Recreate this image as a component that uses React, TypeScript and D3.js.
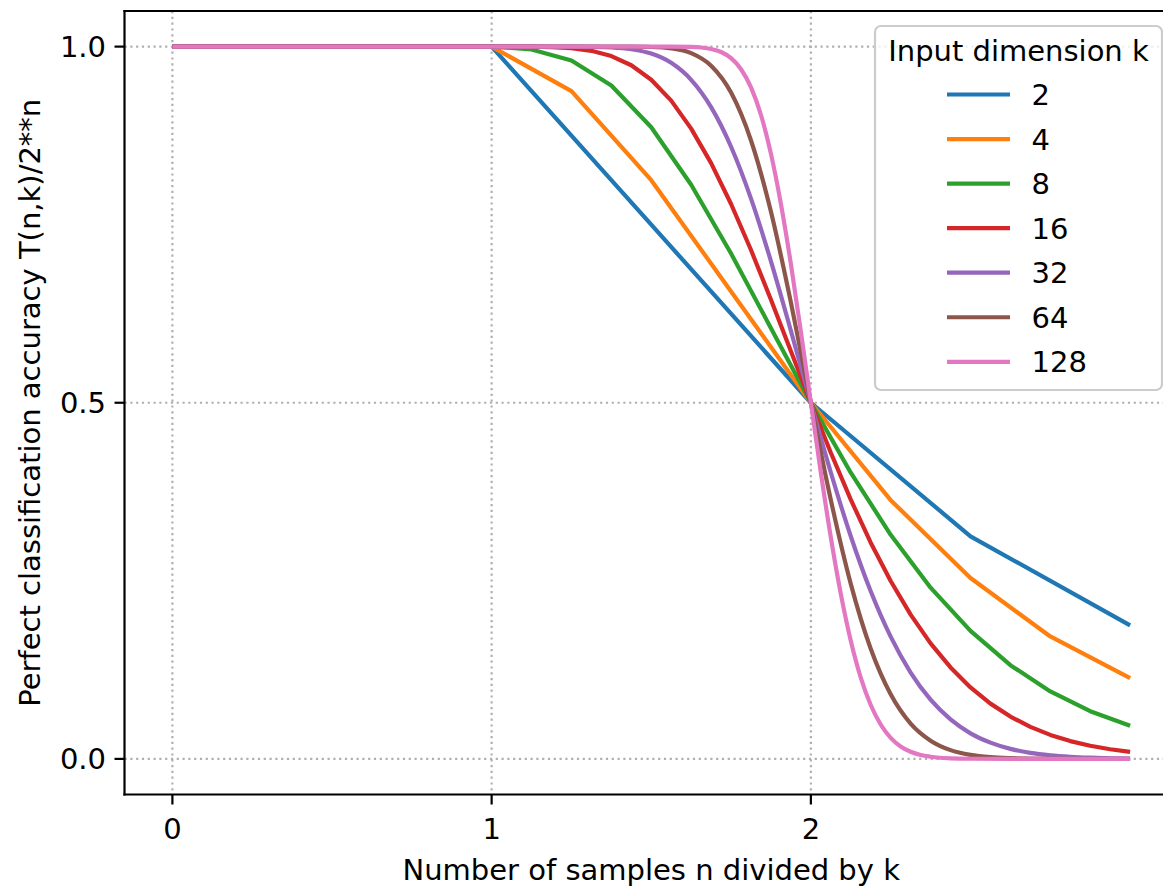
import React from "react";
import * as d3 from "d3";

// ---- Data ----
const SERIES_K = [2, 4, 8, 16, 32, 64, 128];
const COLORS = ["#1f77b4", "#ff7f0e", "#2ca02c", "#d62728", "#9467bd", "#8c564b", "#e377c2"];

// k = 2 .. 16: every sample n = 0..3k, x = n / k
const K2_Y = [1, 1, 1, 0.75, 0.5, 0.3125, 0.1875];
const K4_Y = [1, 1, 1, 1, 1, 0.9375, 0.8125, 0.65625, 0.5, 0.36328, 0.25391, 0.171875, 0.11328];
const K8_Y = [
  1, 1, 1, 1, 1, 1, 1, 1, 1,
  0.99609, 0.98047, 0.94531, 0.88672, 0.80615, 0.70947, 0.60474, 0.5,
  0.40181, 0.31453, 0.24034, 0.17964, 0.13159, 0.09462, 0.0669, 0.04657,
];
const K16_Y = [
  1, 1, 1, 1, 1, 1, 1, 1, 1, 1, 1, 1, 1, 1, 1, 1, 1,
  0.99998, 0.99986, 0.99934, 0.99779, 0.99409, 0.9867, 0.9738, 0.9534,
  0.9242, 0.8849, 0.8364, 0.779, 0.7144, 0.6447, 0.5724, 0.5,
  0.4298, 0.364, 0.3035, 0.2497, 0.2026, 0.1622, 0.1284, 0.1003,
  0.0776, 0.0594, 0.0449, 0.0337, 0.025, 0.0185, 0.0135, 0.0098,
];

// k = 32, 64: sampled every 1/16
const GRID16_X = [
  0, 1, 1.0625, 1.125, 1.1875, 1.25, 1.3125, 1.375, 1.4375, 1.5, 1.5625, 1.625, 1.6875, 1.75,
  1.8125, 1.875, 1.9375, 2, 2.0625, 2.125, 2.1875, 2.25, 2.3125, 2.375, 2.4375, 2.5,
  2.5625, 2.625, 2.6875, 2.75, 2.8125, 2.875, 2.9375, 3,
];
const K32_Y = [
  1, 1, 1, 1, 0.99999, 0.99994, 0.9997, 0.9989, 0.9963, 0.9902, 0.9772, 0.9534, 0.915, 0.8594,
  0.7865, 0.6986, 0.601, 0.5, 0.4021, 0.3126, 0.2353, 0.1716, 0.1212, 0.0831, 0.0554, 0.0359,
  0.0228, 0.0141, 0.0085, 0.0051, 0.003, 0.0017, 0.0009, 0.0005,
];
const K64_Y = [
  1, 1, 1, 1, 1, 1, 1, 0.99999, 0.99992, 0.99949, 0.9975, 0.9909, 0.9732, 0.9355,
  0.8682, 0.7681, 0.6407, 0.5, 0.3635, 0.2457, 0.1546, 0.0907, 0.0495, 0.0256, 0.0123, 0.0056,
  0.0024, 0.001, 0.0004, 0.00014, 0.00004, 0.00001, 0, 0,
];

// k = 128: sampled every 1/32 in the transition
const K128_X = [
  0, 1, 1.25, 1.5, 1.5625, 1.625, 1.65625, 1.6875, 1.71875, 1.75, 1.78125, 1.8125, 1.84375,
  1.875, 1.90625, 1.9375, 1.96875, 2, 2.03125, 2.0625, 2.09375, 2.125, 2.15625, 2.1875,
  2.21875, 2.25, 2.28125, 2.3125, 2.34375, 2.375, 2.4375, 2.5, 2.625, 2.75, 3,
];
const K128_Y = [
  1, 1, 1, 1, 0.99996, 0.99958, 0.99877, 0.99675, 0.99246, 0.9838, 0.9683, 0.9427, 0.904,
  0.8494, 0.779, 0.6946, 0.5996, 0.5, 0.4019, 0.3109, 0.2316, 0.1658, 0.114, 0.0756,
  0.0483, 0.0295, 0.0175, 0.01, 0.0055, 0.003, 0.00075, 0.00017, 0, 0, 0,
];

const X_TICKS = [0, 1, 2];
const Y_TICKS = [0, 0.5, 1];
const Y_TICK_LABELS = ["0.0", "0.5", "1.0"];

const X_LABEL = "Number of samples n divided by k";
const Y_LABEL = "Perfect classification accuracy T(n,k)/2**n";
const LEGEND_TITLE = "Input dimension k";

function gridPoints(ys: number[], k: number): [number, number][] {
  return ys.map((v, i) => [i / k, v]);
}
function zipPoints(xs: number[], ys: number[]): [number, number][] {
  return xs.map((v, i) => [v, ys[i]]);
}

const SERIES_POINTS: [number, number][][] = [
  gridPoints(K2_Y, 2),
  gridPoints(K4_Y, 4),
  gridPoints(K8_Y, 8),
  gridPoints(K16_Y, 16),
  zipPoints(GRID16_X, K32_Y),
  zipPoints(GRID16_X, K64_Y),
  zipPoints(K128_X, K128_Y),
];
const SMOOTH = [false, false, false, false, true, true, true];

const W = 1163;
const H = 886;
const FONT = "'DejaVu Sans', sans-serif";
const FS = 29;

export default function App() {
  const x = d3.scaleLinear().domain([-0.15, 3.15]).range([124.5, 1178]);
  const y = d3.scaleLinear().domain([-0.05, 1.05]).range([794.5, 11]);
  const left = x(-0.15);
  const right = x(3.15);
  const top = y(1.05);
  const bottom = y(-0.05);

  const lineLinear = d3
    .line<[number, number]>()
    .x((d) => x(d[0]))
    .y((d) => y(d[1]));
  const lineSmooth = d3
    .line<[number, number]>()
    .x((d) => x(d[0]))
    .y((d) => y(d[1]))
    .curve(d3.curveMonotoneX);

  const legX = 875;
  const legY = 26;
  const legW = 287;
  const legH = 364;
  const entry0 = 94.5;
  const entryStep = 44.55;

  return (
    <svg
      width={W}
      height={H}
      style={{ position: "absolute", left: 0, top: 0, background: "#fff" }}
      fontFamily={FONT}
    >
      <rect x={0} y={0} width={W} height={H} fill="#fff" />
      <defs>
        <clipPath id="plotclip">
          <rect x={left} y={top} width={right - left} height={bottom - top} />
        </clipPath>
      </defs>
      {/* grid */}
      <g stroke="#b0b0b0" strokeWidth={2.2} strokeDasharray="2.2 3.6" fill="none">
        {X_TICKS.map((t) => (
          <line key={"gx" + t} x1={x(t)} x2={x(t)} y1={top} y2={bottom} />
        ))}
        {Y_TICKS.map((t) => (
          <line key={"gy" + t} x1={left} x2={right} y1={y(t)} y2={y(t)} />
        ))}
      </g>
      {/* series */}
      <g clipPath="url(#plotclip)" fill="none" strokeWidth={4.2} strokeLinejoin="round" strokeLinecap="butt">
        {SERIES_POINTS.map((pts, i) => (
          <path
            key={"s" + i}
            d={(SMOOTH[i] ? lineSmooth : lineLinear)(pts) || ""}
            stroke={COLORS[i]}
          />
        ))}
      </g>
      {/* spines */}
      <g stroke="#000" strokeWidth={2.2} fill="none">
        <line x1={left} x2={left} y1={top - 1.1} y2={bottom + 1.1} />
        <line x1={left - 1.1} x2={right} y1={bottom} y2={bottom} />
        <line x1={left - 1.1} x2={right} y1={top} y2={top} />
        <line x1={right} x2={right} y1={top} y2={bottom} />
      </g>
      {/* x ticks */}
      <g>
        {X_TICKS.map((t) => (
          <g key={"xt" + t}>
            <line x1={x(t)} x2={x(t)} y1={bottom} y2={bottom + 10} stroke="#000" strokeWidth={2.2} />
            <text x={x(t)} y={839} textAnchor="middle" fontSize={FS} fill="#000">
              {String(t)}
            </text>
          </g>
        ))}
      </g>
      {/* y ticks */}
      <g>
        {Y_TICKS.map((t, i) => (
          <g key={"yt" + t}>
            <line x1={left - 10} x2={left} y1={y(t)} y2={y(t)} stroke="#000" strokeWidth={2.2} />
            <text x={106} y={y(t) + 10.6} textAnchor="end" fontSize={FS} fill="#000">
              {Y_TICK_LABELS[i]}
            </text>
          </g>
        ))}
      </g>
      {/* axis labels */}
      <text x={(left + right) / 2} y={880} textAnchor="middle" fontSize={FS} fill="#000">
        {X_LABEL}
      </text>
      <text
        transform={`translate(40, ${(top + bottom) / 2}) rotate(-90)`}
        textAnchor="middle"
        fontSize={FS}
        fill="#000"
      >
        {Y_LABEL}
      </text>
      {/* legend */}
      <g>
        <rect
          x={legX}
          y={legY}
          width={legW}
          height={legH}
          rx={6}
          ry={6}
          fill="#fff"
          fillOpacity={0.8}
          stroke="#cccccc"
          strokeWidth={2.2}
        />
        <text x={legX + legW / 2} y={61} textAnchor="middle" fontSize={FS} fill="#000">
          {LEGEND_TITLE}
        </text>
        {SERIES_K.map((k, i) => {
          const ly = entry0 + i * entryStep;
          return (
            <g key={"lg" + k}>
              <line x1={947} x2={1010} y1={ly} y2={ly} stroke={COLORS[i]} strokeWidth={4.2} />
              <text x={1031.5} y={ly + 10.6} fontSize={FS} fill="#000">
                {String(k)}
              </text>
            </g>
          );
        })}
      </g>
    </svg>
  );
}
